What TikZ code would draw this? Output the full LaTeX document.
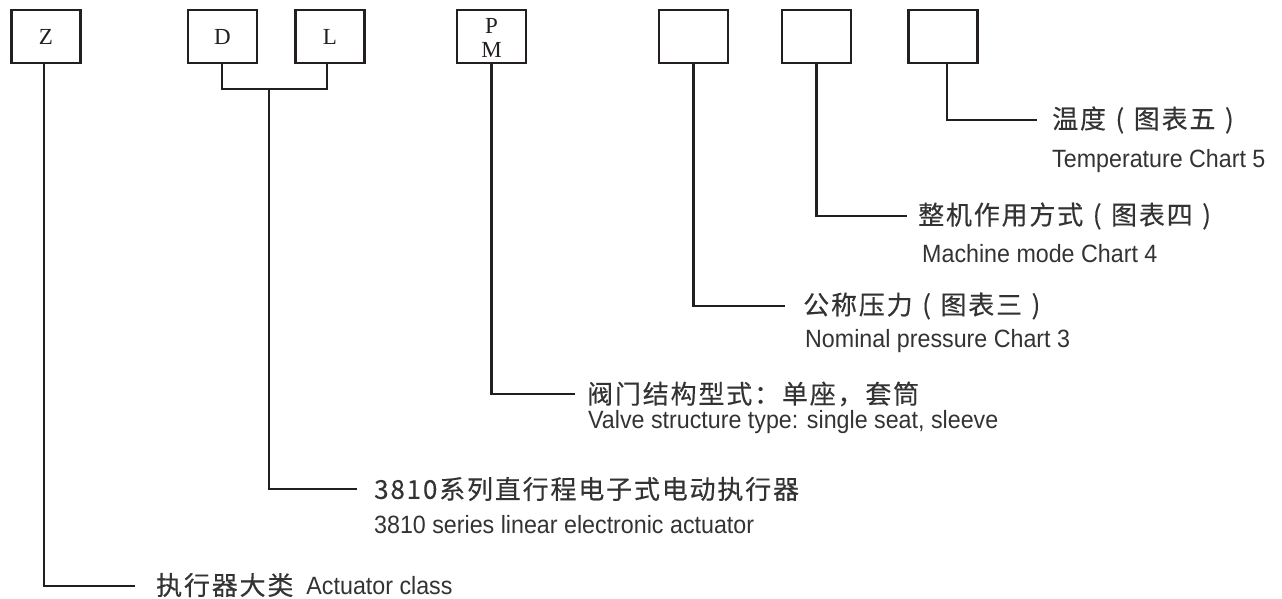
\documentclass[tikz,border=0pt]{standalone}
\usepackage{fontspec}
\setmainfont{Liberation Serif}
\newfontfamily\cjkfont[LetterSpace=7,FakeBold=0.3]{Noto Sans CJK SC}
\newfontfamily\enfont[FakeStretch=0.93]{Liberation Sans}
\newcommand\lpar{\makebox[27.8pt][c]{(}}
\newcommand\rpar{\makebox[27.8pt][c]{)}}
\definecolor{linec}{HTML}{231F20}
\definecolor{textc}{HTML}{333333}
\begin{document}
\begin{tikzpicture}[x=1pt,y=-1pt,
  box/.style={draw=linec, line width=2.6pt, minimum width=69pt, minimum height=53pt, inner sep=0pt, text=linec, align=center, font=\fontsize{23}{24}\selectfont},
  boxtxt/.style={inner sep=0pt, text=linec, align=center, font=\fontsize{23}{24}\selectfont},
  conn/.style={draw=linec, line width=2.4pt},
  zh/.style={anchor=west, inner sep=0pt, text=textc, font=\cjkfont\fontsize{26}{30}\selectfont},
  en/.style={anchor=base west, inner sep=0pt, text=textc, font=\enfont\fontsize{25}{30}\selectfont}]
\useasboundingbox (0,0) rectangle (1282,598);
% boxes
\node[box] (Z)  at (46,36.5)  {Z};
\node[box] (D)  at (222.5,36.5) {D};
\node[box] (L)  at (330,36.5) {L};
\node[box] (PM) at (491.5,36.5) {};
\node[boxtxt] (PMt) at ([yshift=-1.5pt]PM.center) {P\\M};
\node[box] (B1) at (693.5,36.5) {};
\node[box] (B2) at (816.5,36.5) {};
\node[box] (B3) at (943,36.5) {};
% line end coordinates
\coordinate (jD) at (222,89);
\coordinate (jL) at (327,89);
\coordinate (jM) at (269,89);
\coordinate (eZ) at (135,586);
\coordinate (eDL) at (357,489);
\coordinate (ePM) at (575,394);
\coordinate (e1) at (785,306);
\coordinate (e2) at (907,216);
\coordinate (e3) at (1037,120);
% texts
\node[zh] (tZ) at (156,585) {执行器大类\hspace{13pt}\enfont\fontsize{25}{30}\selectfont Actuator class};
\node[zh] (tDL) at (374,489) {3810系列直行程电子式电动执行器};
\node[en] (uDL) at (374,533) {3810 series linear electronic actuator};
\node[zh] (tPM) at (587,394) {阀门结构型式：单座，套筒};
\node[en] (uPM) at (588,428) {Valve structure type: single seat, sleeve};
\node[zh] (t1) at (803,306) {公称压力\lpar 图表三\rpar};
\node[en] (u1) at (805,347) {Nominal pressure Chart 3};
\node[zh] (t2) at (918,216) {整机作用方式\lpar 图表四\rpar};
\node[en] (u2) at (922,262) {Machine mode Chart 4};
\node[zh] (t3) at (1052,120) {温度\lpar 图表五\rpar};
\node[en] (u3) at (1052,167) {Temperature Chart 5};
% connectors
\draw[conn] (Z.south -| 44,0) -- (44,586) -- (eZ);
\draw[conn] (D.south -| jD) -- (jD) -- (jL) -- (L.south -| jL);
\draw[conn] (jM) |- (eDL);
\draw[conn] (PM.south) |- (ePM);
\draw[conn] (B1.south) |- (e1);
\draw[conn] (B2.south) |- (e2);
\draw[conn] (B3.south -| 947,0) |- (e3);
\end{tikzpicture}
\end{document}
